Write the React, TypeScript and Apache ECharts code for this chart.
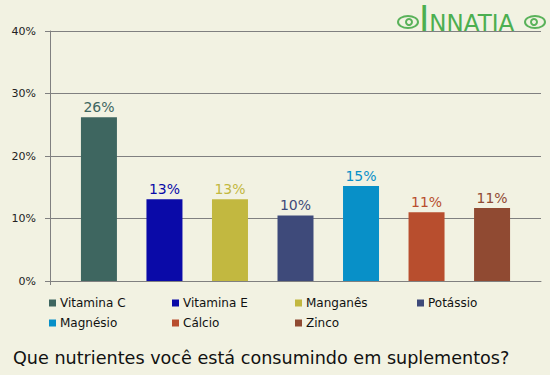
import React, { useEffect, useRef } from "react";
import * as echarts from "echarts";

const nutrients = ["Vitamina C", "Vitamina E", "Manganês", "Potássio", "Magnésio", "Cálcio", "Zinco"];
const values = [26.2, 13.1, 13.1, 10.5, 15.2, 11.0, 11.7];
const colors = ["#3e6660", "#0a0aa8", "#c2b840", "#3e4a7a", "#0890c8", "#b84e2e", "#904a32"];
const yTicks = [0, 10, 20, 30, 40];
const title = "Que nutrientes você está consumindo em suplementos?";

const FONT = "DejaVu Sans, Verdana, sans-serif";

export default function App() {
  const ref = useRef<HTMLDivElement>(null);
  useEffect(() => {
    if (!ref.current) return;
    const chart = echarts.init(ref.current, null, { renderer: "svg" });
    const legendCols = [49, 172, 295, 417];
    const legends = nutrients.map((n, i) => ({
      data: [n],
      left: legendCols[i % 4],
      top: i < 4 ? 297 : 317,
      itemWidth: 7,
      itemHeight: 7,
      icon: "rect",
      itemGap: 4,
      padding: 0,
      textStyle: { fontFamily: FONT, fontSize: 12, color: "#111", padding: [0, 0, 0, -1] },
      selectedMode: false,
    }));
    chart.setOption({
      animation: false,
      backgroundColor: "#f2f2e2",
      textStyle: { fontFamily: FONT },
      title: {
        text: title,
        left: 13,
        top: 349,
        padding: 0,
        textStyle: { fontFamily: FONT, fontSize: 17.6, fontWeight: "normal", color: "#111" },
      },
      legend: legends,
      grid: { left: 50, right: 9, top: 31, bottom: 94 },
      xAxis: {
        type: "category",
        data: ["x"],
        axisLine: { lineStyle: { color: "#808080", width: 1 } },
        axisTick: { show: false },
        axisLabel: { show: false },
      },
      yAxis: {
        type: "value",
        min: 0,
        max: 40,
        interval: 10,
        axisLine: { show: true, lineStyle: { color: "#808080" } },
        axisTick: { show: true, length: 5, lineStyle: { color: "#808080" } },
        splitLine: { lineStyle: { color: "#808080" } },
        axisLabel: {
          fontFamily: FONT,
          fontSize: 11,
          color: "#222",
          margin: 14,
          formatter: (v: number) => (yTicks.includes(v) ? v + "%" : ""),
        },
      },
      series: nutrients.map((n, i) => ({
        name: n,
        type: "bar",
        data: [values[i]],
        barWidth: 36,
        barGap: "82%",
        itemStyle: { color: colors[i] },
        label: {
          show: true,
          position: "top",
          distance: 3,
          fontFamily: FONT,
          fontSize: 14,
          color: colors[i],
          formatter: (p: any) => Math.floor(p.value) + "%",
        },
      })),
      graphic: [
        { type: "line", shape: { x1: 50.5, y1: 281, x2: 50.5, y2: 285 }, style: { stroke: "#808080", lineWidth: 1 } },
        {
          type: "text",
          left: 419,
          top: 1,
          style: {
            text: "{a|I}{b|NNATIA}",
            rich: {
              a: { fontFamily: "DejaVu Sans", fontSize: 35, fill: "#4caf50", fontWeight: "normal" },
              b: { fontFamily: "DejaVu Sans", fontSize: 23, fill: "#4caf50", verticalAlign: "bottom", padding: [0, 0, 2, 0] },
            },
          },
        },
        { type: "ellipse", shape: { cx: 408, cy: 22, rx: 10, ry: 6 }, style: { fill: "none", stroke: "#5ab25a", lineWidth: 2 } },
        { type: "circle", shape: { cx: 409, cy: 22, r: 3 }, style: { fill: "none", stroke: "#5ab25a", lineWidth: 2 } },
        { type: "ellipse", shape: { cx: 535, cy: 22, rx: 10, ry: 6 }, style: { fill: "none", stroke: "#5ab25a", lineWidth: 2 } },
        { type: "circle", shape: { cx: 534, cy: 22, r: 3 }, style: { fill: "none", stroke: "#5ab25a", lineWidth: 2 } },
      ],
    });
    return () => chart.dispose();
  }, []);
  return <div ref={ref} style={{ width: 550, height: 375, position: "absolute", left: 0, top: 0 }} />;
}
